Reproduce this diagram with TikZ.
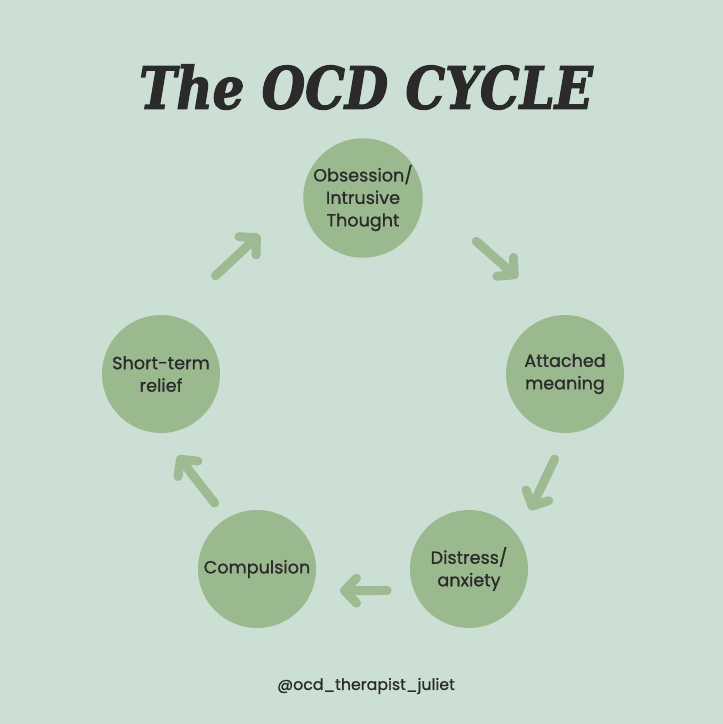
\documentclass[tikz,border=0pt]{standalone}
\usepackage{fontspec}
\setmainfont{Poppins}[FakeBold=0.9]
\newfontfamily\titlefont{DejaVu Serif}[BoldItalicFeatures={FakeBold=2.5}]
\usepackage{tikz}
\usetikzlibrary{arrows.meta,positioning}

\definecolor{mintbg}{HTML}{CCDFD4}
\definecolor{sage}{HTML}{9BB98F}
\definecolor{sagearrow}{HTML}{9DBA92}
\definecolor{ink}{HTML}{2A2A2A}

\begin{document}
\begin{tikzpicture}[x=1pt,y=-1pt,->,>={Straight Barb[length=12pt,width=25pt,round]},line width=9pt,line cap=round,draw=sagearrow]
                  \tikzstyle{stage}=[circle,fill=sage,draw=none,text=ink,minimum size=118pt,inner sep=0pt,outer sep=0pt,align=center,font=\fontsize{17.6}{22.5}\selectfont]

                  \path[-,fill=mintbg] (0,0) rectangle (723,724);
                  \useasboundingbox (0,0) rectangle (723,724);

                  \node[text=ink,font=\titlefont\bfseries\itshape\fontsize{58}{60}\selectfont] (title) at (366,87) {\scalebox{0.86}[1]{The OCD CYCLE}};

                  \node[stage]         (O) at (363,198) {Obsession/\\Intrusive\\Thought};
                  \node[stage]         (A) at (565,374) {Attached\\meaning};
                  \node[stage]         (D) at (469,569) {Distress/\\anxiety};
                  \node[stage]         (C) at (257,569) {Compulsion};
                  \node[stage]         (R) at (161,374) {Short-term\\relief};

                  \node[text=ink,font=\fontsize{15.8}{17}\selectfont] (handle) at (366,686) {@ocd\_therapist\_juliet};

                  \path (O.4.5)   edge[shorten <=71.7pt,shorten >=56.5pt] (A.95.7)
                        (A.272.7) edge[shorten <=29pt,shorten >=28.6pt]   (D.34.6)
                        (D.201.9) edge[shorten <=26.8pt,shorten >=28.3pt] (C.338.1)
                        (C.121.7) edge[shorten <=19.4pt,shorten >=28.9pt] (R.269.5)
                        (R.79.5)  edge[shorten <=59.2pt,shorten >=59.8pt] (O.176.7);
                \end{tikzpicture}
\end{document}
